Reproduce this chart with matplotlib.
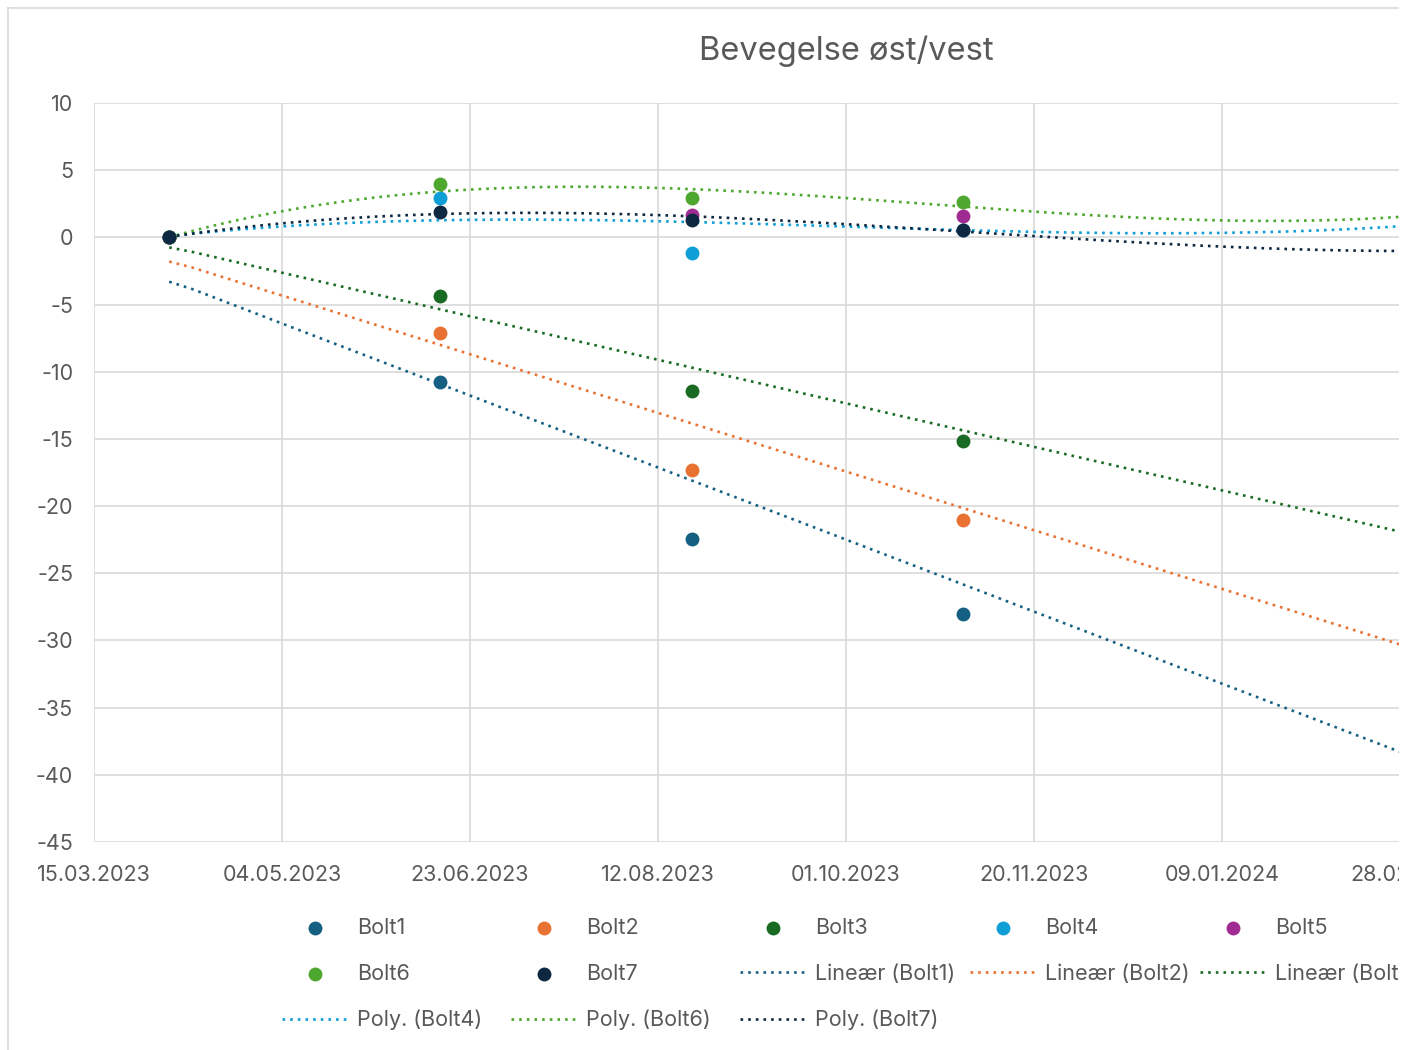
import numpy as np
import pandas as pd
import matplotlib
matplotlib.use("Agg")
import matplotlib.pyplot as plt
import matplotlib.dates as mdates
from matplotlib.lines import Line2D
from matplotlib.patches import Rectangle

plt.rcParams['font.family'] = ['Inter', 'DejaVu Sans']
plt.rcParams['axes.unicode_minus'] = False

# %% data
dates = pd.to_datetime(['2023-04-04', '2023-06-15', '2023-08-21', '2023-11-01'])
bolt1 = [0, -10.8, -22.45, -28.05]
bolt2 = [0, -7.1, -17.35, -21.05]
bolt3 = [0, -4.35, -11.4, -15.15]
bolt4 = [0, 2.9, -1.15, 0.55]
bolt5 = [0, np.nan, 1.7, 1.6]
bolt6 = [0, 4.0, 2.95, 2.65]
bolt7 = [0, 1.9, 1.3, 0.55]

# linear trendlines (value at first date, slope per day)
lin_start = {'Bolt1': -3.3, 'Bolt2': -1.8, 'Bolt3': -0.75}
lin_slope = {'Bolt1': -0.1072, 'Bolt2': -0.0873, 'Bolt3': -0.0648}

# polynomial trendlines, readings along the curve
poly_days = [20, 50, 92, 100, 124, 150, 174, 200, 231, 250, 273, 300, 321, 347]
poly4 = [0, 0.97, 1.34, 1.3, 1.2, 1.17, 0.97, 0.89, 0.5, 0.42, 0.35, 0.35, 0.47, 0.8]
poly6 = [0, 1.96, 3.37, 3.62, 3.77, 3.65, 3.32, 2.95, 2.38, 1.91, 1.5, 1.21, 1.29, 1.51]
poly7 = [0, 1.09, 1.71, 1.84, 1.84, 1.59, 1.34, 0.97, 0.47, 0.1, -0.27, -0.72, -0.89, -1.02]

start = pd.Timestamp('2023-03-15')
xticks = pd.date_range(start, periods=8, freq='50D')

colors = {'Bolt1': '#156082', 'Bolt2': '#E97132', 'Bolt3': '#196B24', 'Bolt4': '#0F9ED5',
          'Bolt5': '#A02B93', 'Bolt6': '#4EA72E', 'Bolt7': '#0E2841'}
series = {'Bolt1': bolt1, 'Bolt2': bolt2, 'Bolt3': bolt3, 'Bolt4': bolt4,
          'Bolt5': bolt5, 'Bolt6': bolt6, 'Bolt7': bolt7}
txt = '#595959'
fs = 15.5

# %%
W, H = 1415, 1050
fig = plt.figure(figsize=(W / 100, H / 100), dpi=100)
right_px = 1500
ax = fig.add_axes([94 / W, 1 - 842 / H, (right_px - 94) / W, (842 - 103) / H])

x_end = start + pd.Timedelta(days=(right_px - 94) / 3.76)
ax.set_xlim(mdates.date2num(start), mdates.date2num(x_end))
ax.set_ylim(-45, 10)
ax.set_yticks(np.arange(-45, 11, 5))
ax.set_xticks(mdates.date2num(xticks))
ax.xaxis.set_major_formatter(mdates.DateFormatter('%d.%m.%Y'))
ax.grid(True, color='#D9D9D9', linewidth=1.2)
ax.set_axisbelow(True)
for s in ax.spines.values():
    s.set_visible(False)
ax.tick_params(axis='both', length=0, labelsize=fs, labelcolor=txt)
ax.tick_params(axis='y', pad=15)
ax.tick_params(axis='x', pad=16.5)

dash = (0, (1, 1.9))
lw = 1.9
handles = {}
# trendlines
tx = pd.date_range(dates[0], x_end, periods=60)
tdays = (tx - dates[0]).days.values
for name in ['Bolt1', 'Bolt2', 'Bolt3']:
    ty = lin_start[name] + lin_slope[name] * tdays
    h, = ax.plot(tx, ty, ls=dash, lw=lw, color=colors[name], zorder=2)
    handles['Lineær (%s)' % name] = h

px = start + pd.to_timedelta(np.linspace(poly_days[0], (right_px - 94) / 3.76, 200), unit='D')
pdays = (px - start).days.values + (px - start).seconds.values / 86400
for name, vals in [('Bolt4', poly4), ('Bolt6', poly6), ('Bolt7', poly7)]:
    c = np.polyfit(poly_days, vals, 3)
    h, = ax.plot(px, np.polyval(c, pdays), ls=dash, lw=lw, color=colors[name], zorder=2)
    handles['Poly. (%s)' % name] = h

for name, vals in series.items():
    h = ax.scatter(dates, vals, s=100, color=colors[name], zorder=3, linewidths=0)
    handles[name] = h

# title
fig.text(846 / W, 1 - 51 / H, 'Bevegelse øst/vest', ha='center', va='center',
         fontsize=23.5, color=txt)

# legend, one legend per column (Excel fills rows)
cols = [['Bolt1', 'Bolt6', 'Poly. (Bolt4)'],
        ['Bolt2', 'Bolt7', 'Poly. (Bolt6)'],
        ['Bolt3', 'Lineær (Bolt1)', 'Poly. (Bolt7)'],
        ['Bolt4', 'Lineær (Bolt2)'],
        ['Bolt5', 'Lineær (Bolt3)']]
col_x = [282, 511, 740, 970, 1200]
for cx, labs in zip(col_x, cols):
    leg = fig.legend([handles[l] for l in labs], labs, loc='upper left',
                     bbox_to_anchor=(cx / W, 1 - 918 / H), frameon=False,
                     borderpad=0, borderaxespad=0, handlelength=3.05,
                     handletextpad=0.42, labelspacing=1.2, fontsize=fs,
                     labelcolor=txt, scatterpoints=1)

# chart border and crop on the right
fig.add_artist(Line2D([8 / W, 1400 / W], [1 - 8 / H, 1 - 8 / H], color='#D9D9D9', lw=1.2))
fig.add_artist(Line2D([8 / W, 8 / W], [1 - 8 / H, 0], color='#D9D9D9', lw=1.2))
fig.add_artist(Rectangle((1399 / W, 0), 1, 1, transform=fig.transFigure,
                         facecolor='white', edgecolor='none', zorder=100))

plt.savefig('out.png', dpi=100)
